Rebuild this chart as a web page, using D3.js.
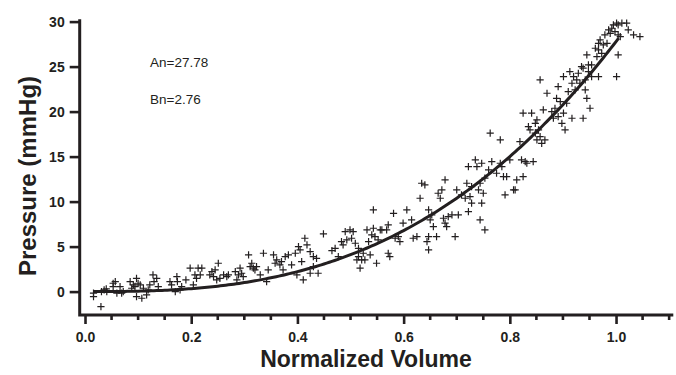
<!DOCTYPE html>
<html>
<head>
<meta charset="utf-8">
<script src="https://cdn.jsdelivr.net/npm/d3@7"></script>
<style>
  html, body { margin: 0; padding: 0; background: #fff; }
  svg { display: block; font-family: "Liberation Sans", Arial, sans-serif; }
</style>
</head>
<body>
<svg id="chart" width="676" height="375"></svg>
<script>
// Fit parameters shown on the chart
const An = 27.78;
const Bn = 2.76;

const volume = [
  0.016, 0.016, 0.030, 0.031, 0.036, 0.040, 0.041, 0.053, 0.057, 0.053,
  0.060, 0.066, 0.069, 0.072, 0.085, 0.088, 0.091, 0.094, 0.097, 0.100,
  0.097, 0.104, 0.107, 0.110, 0.116, 0.119, 0.122, 0.128, 0.130, 0.135,
  0.138, 0.160, 0.163, 0.170, 0.173, 0.174, 0.179, 0.182, 0.190, 0.198,
  0.204, 0.207, 0.210, 0.213,
  0.217, 0.220, 0.235, 0.239, 0.242, 0.245, 0.248, 0.251, 0.254, 0.261,
  0.267, 0.270, 0.283, 0.286, 0.289, 0.292, 0.295, 0.298, 0.308, 0.311,
  0.314, 0.317, 0.320, 0.323, 0.330, 0.336, 0.342, 0.345, 0.355, 0.358,
  0.361, 0.367, 0.370, 0.373, 0.377, 0.383, 0.389, 0.396, 0.399, 0.402,
  0.405, 0.408, 0.411, 0.414, 0.418, 0.424, 0.424, 0.430,
  0.430, 0.436, 0.439, 0.449, 0.465, 0.471, 0.477, 0.483, 0.486, 0.490,
  0.493, 0.499, 0.502, 0.505, 0.509, 0.512, 0.515, 0.515, 0.518, 0.521,
  0.524, 0.527, 0.531, 0.534, 0.537, 0.540, 0.543, 0.543, 0.546, 0.549,
  0.552, 0.556, 0.559, 0.568, 0.571, 0.571, 0.574, 0.581, 0.584, 0.590,
  0.593, 0.599, 0.606, 0.615, 0.618, 0.625, 0.631, 0.634, 0.640, 0.644,
  0.647, 0.647,
  0.650, 0.653, 0.656, 0.647, 0.662, 0.665, 0.669, 0.672, 0.675, 0.678,
  0.678, 0.681, 0.684, 0.691, 0.697, 0.700, 0.703, 0.709, 0.716, 0.719,
  0.722, 0.722, 0.725, 0.728, 0.728, 0.735, 0.738, 0.741, 0.744, 0.744,
  0.747, 0.747, 0.750, 0.753, 0.753, 0.760, 0.763, 0.766, 0.775, 0.782,
  0.782, 0.785, 0.788, 0.794, 0.791, 0.800, 0.807, 0.810, 0.813, 0.819,
  0.822, 0.825, 0.825,
  0.829, 0.832, 0.835, 0.838, 0.841, 0.844, 0.848, 0.848, 0.851, 0.851,
  0.854, 0.857, 0.857, 0.860, 0.863, 0.866, 0.870, 0.879, 0.882, 0.885,
  0.888, 0.891, 0.891, 0.895, 0.898, 0.901, 0.901, 0.904, 0.907, 0.910,
  0.913, 0.917, 0.917, 0.920, 0.923, 0.926, 0.929, 0.932, 0.935, 0.938,
  0.942, 0.945, 0.945, 0.948, 0.951, 0.954, 0.954, 0.961, 0.964, 0.967,
  0.967,
  0.938, 0.942, 0.948, 0.967, 0.970, 0.973, 0.976, 0.979, 0.983, 0.986,
  0.989, 0.992, 0.995, 0.998, 1.001, 1.004, 1.004, 1.008, 1.004, 1.001,
  1.011, 1.020, 1.023, 1.033, 1.045
];

const pressure = [
  -0.18, -0.55, -1.67, 0.00, 0.19, 0.30, 0.00, 0.93, 1.10, 0.55,
  -0.18, 0.55, -0.18, 0.00, 1.10, 0.37, 0.74, 0.55, 1.48, 0.93,
  -0.55, 0.74, -0.74, 0.37, -0.37, 0.19, 0.74, 1.85, 1.10, 1.48,
  0.55, 1.10, 0.74, 0.00, 1.67, 1.10, 0.19, 0.55, 1.30, 2.60,
  0.74, 1.85, 1.48, 2.60,
  1.85, 2.60, 1.85, 2.22, 1.67, 2.41, 1.30, 3.15, 1.48, 1.85,
  1.67, 1.85, 2.22, 1.30, 1.85, 2.60, 2.04, 1.67, 4.07, 2.78,
  3.15, 2.60, 2.41, 2.78, 1.85, 4.26, 1.10, 2.41, 4.07, 3.15,
  3.52, 2.96, 3.33, 2.41, 3.89, 4.07, 2.96, 4.26, 1.85, 5.00,
  4.63, 3.33, 1.30, 5.93, 5.19, 4.44, 2.04, 2.78,
  3.89, 3.70, 2.04, 6.41, 4.56, 4.81, 3.89, 5.56, 5.19, 6.67,
  5.74, 6.85, 5.93, 6.67, 5.37, 3.52, 3.89, 4.81, 2.60, 3.52,
  4.26, 3.52, 6.85, 5.56, 4.07, 6.30, 7.04, 9.07, 6.11, 3.15,
  5.74, 6.85, 6.85, 6.85, 7.41, 4.26, 3.89, 8.70, 5.93, 6.11,
  5.56, 7.60, 9.07, 7.96, 5.93, 6.11, 10.37, 12.04, 11.85, 5.56,
  4.63, 9.07,
  7.96, 8.52, 7.22, 6.11, 6.11, 10.93, 10.37, 11.30, 8.15, 12.41,
  7.60, 7.22, 8.33, 8.52, 6.11, 11.30, 8.52, 10.74, 10.37, 12.04,
  13.89, 8.89, 10.56, 11.67, 9.82, 14.63, 13.89, 11.30, 12.04, 7.96,
  14.26, 9.82, 10.93, 6.85, 12.60, 13.52, 17.60, 14.44, 13.15, 14.26,
  16.85, 13.89, 12.78, 12.78, 10.74, 14.63, 11.30, 11.30, 12.41, 16.67,
  14.63, 19.82, 12.78,
  14.44, 14.26, 18.33, 17.96, 19.82, 14.44, 18.70, 17.60, 19.07, 16.85,
  17.96, 23.52, 17.22, 16.48, 20.19, 16.85, 22.04, 20.00, 19.26, 20.37,
  21.48, 19.44, 22.78, 21.11, 18.70, 23.89, 19.82, 17.96, 20.93, 22.22,
  24.44, 23.15, 19.26, 23.89, 22.41, 23.52, 24.26, 23.15, 25.00, 19.26,
  23.52, 21.48, 26.30, 24.44, 20.37, 23.89, 25.19, 27.04, 26.11, 23.89,
  26.85,
  24.82, 22.41, 25.19, 27.59, 27.96, 26.48, 27.41, 28.52, 27.59, 29.07,
  28.70, 29.26, 29.63, 28.89, 29.82, 29.63, 28.52, 28.33, 26.30, 23.89,
  29.82, 29.82, 29.07, 28.52, 28.33
];

// Axis ticks
const xMajorTicks = [0, 0.2, 0.4, 0.6, 0.8, 1.0];
const xMinorTicks = [0.05, 0.1, 0.15, 0.25, 0.3, 0.35, 0.45, 0.5, 0.55, 0.65, 0.7, 0.75, 0.85, 0.9, 0.95, 1.05, 1.1];
const yTicks = [0, 5, 10, 15, 20, 25, 30];

const ink = '#231f20';
const svg = d3.select('#chart');

const x = d3.scaleLinear().domain([-0.01, 1.105]).range([79.7, 671.8]);
const y = d3.scaleLinear().domain([-2.6, 30.1]).range([315, 20.7]);

const points = volume.map((v, i) => ({ v, p: pressure[i] }));

// Fitted curve P = An * V^Bn
const curveV = d3.range(0.015, 1.0051, 0.005);
const line = d3.line()
  .x(v => x(v))
  .y(v => y(An * Math.pow(v, Bn)));

svg.append('path')
  .datum(curveV)
  .attr('fill', 'none')
  .attr('stroke', ink)
  .attr('stroke-width', 3)
  .attr('d', line);

// Plus markers
const s = 3.6;
svg.append('g')
  .selectAll('path')
  .data(points)
  .enter()
  .append('path')
  .attr('d', d => {
    const cx = x(d.v), cy = y(d.p);
    return `M${cx - s},${cy}H${cx + s}M${cx},${cy - s}V${cy + s}`;
  })
  .attr('stroke', ink)
  .attr('stroke-width', 1.2)
  .attr('fill', 'none');

// X axis
const xAxis = svg.append('g')
  .attr('transform', `translate(0,${y(-2.6)})`)
  .call(d3.axisBottom(x).tickValues(xMajorTicks).tickSize(9).tickPadding(8)
    .tickFormat(d3.format('.1f')));
xAxis.select('.domain').remove();
xAxis.selectAll('.tick line').attr('stroke', ink).attr('stroke-width', 2.6);
xAxis.selectAll('.tick text')
  .attr('fill', ink)
  .style('font-size', '14px')
  .style('font-weight', 'bold');

svg.append('g')
  .attr('transform', `translate(0,${y(-2.6)})`)
  .selectAll('line')
  .data(xMinorTicks)
  .enter()
  .append('line')
  .attr('x1', d => x(d)).attr('x2', d => x(d))
  .attr('y1', 0).attr('y2', 5)
  .attr('stroke', ink)
  .attr('stroke-width', 2.6);

// Y axis
const yAxis = svg.append('g')
  .attr('transform', `translate(${x(-0.01)},0)`)
  .call(d3.axisLeft(y).tickValues(yTicks).tickSize(10).tickPadding(5));
yAxis.select('.domain').remove();
yAxis.selectAll('.tick line').attr('stroke', ink).attr('stroke-width', 2.6);
yAxis.selectAll('.tick text')
  .attr('fill', ink)
  .style('font-size', '14px')
  .style('font-weight', 'bold');

// Axis lines (L-shaped frame)
svg.append('path')
  .attr('d', `M${x(-0.01)},${y(30.1)}V${y(-2.6)}H${x(1.105)}`)
  .attr('fill', 'none')
  .attr('stroke', ink)
  .attr('stroke-width', 3)
  .attr('stroke-linecap', 'square');

// Axis titles
svg.append('text')
  .attr('x', 366)
  .attr('y', 367)
  .attr('text-anchor', 'middle')
  .attr('fill', ink)
  .style('font-size', '23px')
  .style('font-weight', 'bold')
  .text('Normalized Volume');

svg.append('text')
  .attr('transform', 'translate(36,176) rotate(-90)')
  .attr('text-anchor', 'middle')
  .attr('fill', ink)
  .style('font-size', '24px')
  .style('font-weight', 'bold')
  .text('Pressure (mmHg)');

// Fit annotations
svg.append('text')
  .attr('x', 150).attr('y', 67)
  .attr('fill', ink)
  .style('font-size', '13.5px')
  .text(`An=${An}`);

svg.append('text')
  .attr('x', 150).attr('y', 104)
  .attr('fill', ink)
  .style('font-size', '13.5px')
  .text(`Bn=${Bn}`);
</script>
</body>
</html>
